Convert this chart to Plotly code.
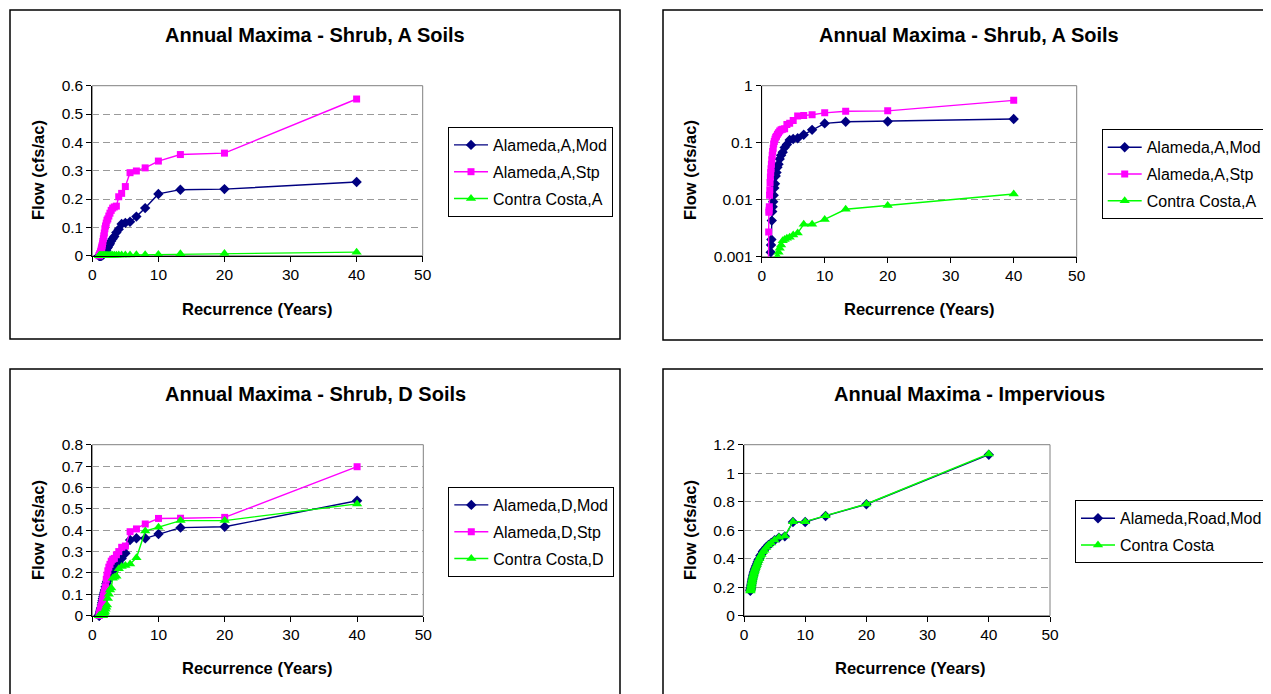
import plotly.graph_objects as go

# page body adds an 8px margin; the figure is sized to fill the rest of the window
OFF = 8
W, H = 1271 - OFF, 694 - OFF

# Recurrence interval (years) for each ranked annual maximum
recurrence = [40, 20, 13.33, 10, 8, 6.67, 5.71, 5, 4.44, 4, 3.64, 3.33, 3.08, 2.86, 2.67,
              2.5, 2.35, 2.22, 2.11, 2, 1.9, 1.82, 1.74, 1.67, 1.6, 1.54, 1.48, 1.43, 1.38,
              1.33, 1.29, 1.25, 1.21, 1.18, 1.14, 1.11, 1.08, 1.05, 1.03]

# Shrub, A soils
alameda_a_mod = [0.26, 0.235, 0.233, 0.218, 0.168, 0.138, 0.12, 0.116, 0.112, 0.093, 0.082,
                 0.068, 0.06, 0.052, 0.042, 0.037, 0.03, 0.026, 0.019, 0.016, 0.012, 0.0092,
                 0.0075, 0.0062, 0.0043, 0.002, 0.0016, 0.0012, 0.0008, 0.0006, 0.0005,
                 0.0004, 0.0003, 0.0002, 0.00015, 0.0001, 0.00008, 0.00005, 0.00002]
alameda_a_stp = [0.553, 0.362, 0.357, 0.334, 0.31, 0.299, 0.293, 0.244, 0.22, 0.208, 0.175,
                 0.172, 0.168, 0.16, 0.15, 0.14, 0.13, 0.125, 0.115, 0.105, 0.095, 0.08,
                 0.07, 0.06, 0.05, 0.042, 0.035, 0.03, 0.025, 0.02, 0.015, 0.012, 0.0075,
                 0.0065, 0.006, 0.0027, 0.0005, 0.0002, 0.0001]
contra_costa_a = [0.0126, 0.0079, 0.0068, 0.0045, 0.0037, 0.0037, 0.0026, 0.0024, 0.0022,
                  0.0021, 0.002, 0.0019, 0.0016, 0.0014, 0.0012, 0.001, 0.0009, 0.0008,
                  0.0007, 0.0006, 0.0005, 0.00045, 0.0004, 0.00035, 0.0003, 0.00025, 0.0002,
                  0.00018, 0.00016, 0.00014, 0.00012, 0.0001, 0.00009, 0.00008, 0.00007,
                  0.00006, 0.00005, 0.00004, 0.00003]

# Shrub, D soils
alameda_d_mod = [0.538, 0.416, 0.412, 0.382, 0.362, 0.362, 0.354, 0.292, 0.268, 0.246, 0.23,
                 0.22, 0.21, 0.2, 0.19, 0.18, 0.17, 0.16, 0.15, 0.135, 0.12, 0.11, 0.1, 0.09,
                 0.08, 0.07, 0.06, 0.05, 0.04, 0.035, 0.03, 0.025, 0.02, 0.015, 0.01, 0.006,
                 0.003, 0.001, 0.0]
alameda_d_stp = [0.697, 0.46, 0.456, 0.455, 0.429, 0.406, 0.393, 0.326, 0.32, 0.3, 0.285,
                 0.268, 0.264, 0.255, 0.24, 0.227, 0.21, 0.19, 0.17, 0.136, 0.12, 0.11, 0.1,
                 0.09, 0.08, 0.07, 0.06, 0.05, 0.045, 0.04, 0.035, 0.03, 0.025, 0.02, 0.015,
                 0.01, 0.005, 0.003, 0.001]
contra_costa_d = [0.523, 0.445, 0.445, 0.414, 0.396, 0.271, 0.242, 0.235, 0.23, 0.22, 0.185,
                  0.18, 0.175, 0.13, 0.12, 0.1, 0.08, 0.05, 0.04, 0.03, 0.02, 0.015, 0.01,
                  0.005, 0.0, 0.0, 0.0, 0.0, 0.0, 0.0, 0.0, 0.0, 0.0, 0.0, 0.0, 0.0, 0.0,
                  0.0, 0.0]

# Impervious
alameda_road_mod = [1.13, 0.782, 0.7, 0.658, 0.658, 0.557, 0.548, 0.53, 0.51, 0.497, 0.48,
                    0.462, 0.45, 0.432, 0.42, 0.4, 0.39, 0.376, 0.362, 0.35, 0.34, 0.33, 0.32,
                    0.31, 0.3, 0.29, 0.28, 0.27, 0.26, 0.25, 0.24, 0.23, 0.22, 0.21, 0.2, 0.19,
                    0.185, 0.18, 0.175]
contra_costa_imp = [1.135, 0.784, 0.702, 0.66, 0.66, 0.559, 0.55, 0.531, 0.51, 0.496, 0.478,
                    0.46, 0.448, 0.43, 0.418, 0.4, 0.388, 0.374, 0.36, 0.348, 0.338, 0.328,
                    0.318, 0.308, 0.298, 0.288, 0.278, 0.268, 0.258, 0.248, 0.238, 0.228,
                    0.218, 0.208, 0.198, 0.19, 0.184, 0.178, 0.173]

titles = ["Annual Maxima - Shrub, A Soils", "Annual Maxima - Shrub, A Soils",
          "Annual Maxima - Shrub, D Soils", "Annual Maxima - Impervious"]
x_title = "Recurrence (Years)"
y_title = "Flow (cfs/ac)"

NAVY, MAGENTA, GREEN = "#000080", "#FF00FF", "#00FF00"
FONT = "Arial, Liberation Sans, sans-serif"

def px(x):
    return (x - OFF) / W

def py(y):
    return 1 - (y - OFF) / H

# plot areas in window pixels: (left, right, top, bottom)
areas = [(92.3, 422.7, 85.7, 255.7), (761.7, 1076.7, 85.7, 256.7),
         (92.3, 423.3, 444.7, 615.7), (744, 1050, 444.7, 615.7)]
# legends: (left, top)
legpos = [(448, 127), (1101.7, 129.3), (448.3, 487), (1075, 500.3)]
# outer frames
frames = [(10, 10, 620, 339), (663, 10, 1290, 340), (10, 369, 620, 710), (663, 369, 1290, 710)]
title_pos = [(315, 35), (969, 35), (315, 394), (969, 394)]
ytitle_pos = [(38, 170), (690, 170), (38, 530), (690, 530)]
xtitle_pos = [(257, 309), (919, 309), (257, 668), (910, 668)]

series = [
    [("Alameda,A,Mod", alameda_a_mod, NAVY, "diamond", 8),
     ("Alameda,A,Stp", alameda_a_stp, MAGENTA, "square", 7),
     ("Contra Costa,A", contra_costa_a, GREEN, "triangle-up", 9)],
    [("Alameda,A,Mod", alameda_a_mod, NAVY, "diamond", 8),
     ("Alameda,A,Stp", alameda_a_stp, MAGENTA, "square", 7),
     ("Contra Costa,A", contra_costa_a, GREEN, "triangle-up", 9)],
    [("Alameda,D,Mod", alameda_d_mod, NAVY, "diamond", 8),
     ("Alameda,D,Stp", alameda_d_stp, MAGENTA, "square", 7),
     ("Contra Costa,D", contra_costa_d, GREEN, "triangle-up", 9)],
    [("Alameda,Road,Mod", alameda_road_mod, NAVY, "diamond", 8),
     ("Contra Costa", contra_costa_imp, GREEN, "triangle-up", 9)],
]

TICK_SIZE = 15.5
LEG_SIZE = 16
AXT_SIZE = 16.5
TITLE_SIZE = 20

fig = go.Figure()
shapes, annotations = [], []
layout = dict(width=W, height=H, autosize=False,
              margin=dict(l=0, r=0, t=0, b=0, pad=0, autoexpand=False),
              paper_bgcolor="white", plot_bgcolor="white",
              font=dict(family=FONT, size=TICK_SIZE, color="black"))

for i in range(4):
    k = "" if i == 0 else str(i + 1)
    lk = "legend" if i == 0 else f"legend{i + 1}"
    for name, vals, col, sym, sz in series[i]:
        fig.add_trace(go.Scatter(
            x=recurrence, y=vals, name=name, mode="lines+markers",
            line=dict(color=col, width=1.4),
            marker=dict(color=col, symbol=sym, size=sz, line=dict(width=0)),
            xaxis="x" + k, yaxis="y" + k, legend=lk, legendgroup=f"{i}{name}",
            cliponaxis=(i == 1)))
    l, r, t, b = areas[i]
    xa = dict(domain=[px(l), px(r)], range=[0, 50], dtick=10, tick0=0,
              showgrid=False, zeroline=False, showline=True, linecolor="black",
              linewidth=1, ticks="outside", ticklen=5, tickcolor="black",
              tickfont=dict(size=TICK_SIZE), anchor="y" + k, fixedrange=True,
              automargin=False)
    ya = dict(domain=[py(b), py(t)], showgrid=True, gridcolor="#9a9a9a",
              griddash="7px,4px", gridwidth=1, zeroline=False, showline=True,
              linecolor="black", linewidth=1, ticks="outside", ticklen=5,
              tickcolor="black", tickfont=dict(size=TICK_SIZE), anchor="x" + k,
              fixedrange=True, automargin=False)
    if i == 0:
        ya.update(range=[0, 0.6], dtick=0.1, tick0=0)
    elif i == 1:
        ya.update(type="log", range=[-3, 0], tickvals=[0.001, 0.01, 0.1, 1],
                  ticktext=["0.001", "0.01", "0.1", "1"])
    elif i == 2:
        ya.update(range=[0, 0.8], dtick=0.1, tick0=0)
    else:
        ya.update(range=[0, 1.2], dtick=0.2, tick0=0)
    layout["xaxis" + k] = xa
    layout["yaxis" + k] = ya
    lx, ly = legpos[i]
    layout[lk] = dict(x=px(lx), y=py(ly), xanchor="left", yanchor="top",
                      bordercolor="black", borderwidth=1, bgcolor="white",
                      font=dict(size=LEG_SIZE, family=FONT), tracegroupgap=3,
                      itemwidth=34, itemclick=False, itemdoubleclick=False)
    # plot area border
    shapes.append(dict(type="rect", xref="paper", yref="paper", x0=px(l), x1=px(r),
                       y0=py(b), y1=py(t), line=dict(color="#808080", width=1),
                       layer="below"))
    fx0, fy0, fx1, fy1 = frames[i]
    shapes.append(dict(type="rect", xref="paper", yref="paper", x0=px(fx0), x1=px(fx1),
                       y0=py(fy1), y1=py(fy0), line=dict(color="black", width=1.5),
                       layer="below"))
    tx, ty = title_pos[i]
    annotations.append(dict(text="<b>" + titles[i] + "</b>", x=px(tx), y=py(ty),
                            xref="paper", yref="paper", showarrow=False,
                            xanchor="center", yanchor="middle",
                            font=dict(size=TITLE_SIZE, family=FONT)))
    ax_, ay_ = ytitle_pos[i]
    annotations.append(dict(text="<b>" + y_title + "</b>", x=px(ax_), y=py(ay_),
                            xref="paper", yref="paper", showarrow=False, textangle=-90,
                            xanchor="center", yanchor="middle",
                            font=dict(size=AXT_SIZE, family=FONT)))
    bx, by = xtitle_pos[i]
    annotations.append(dict(text="<b>" + x_title + "</b>", x=px(bx), y=py(by),
                            xref="paper", yref="paper", showarrow=False,
                            xanchor="center", yanchor="middle",
                            font=dict(size=AXT_SIZE, family=FONT)))

layout["shapes"] = shapes
layout["annotations"] = annotations
fig.update_layout(**layout)
fig.write_html("out.html", config={"displayModeBar": False})
